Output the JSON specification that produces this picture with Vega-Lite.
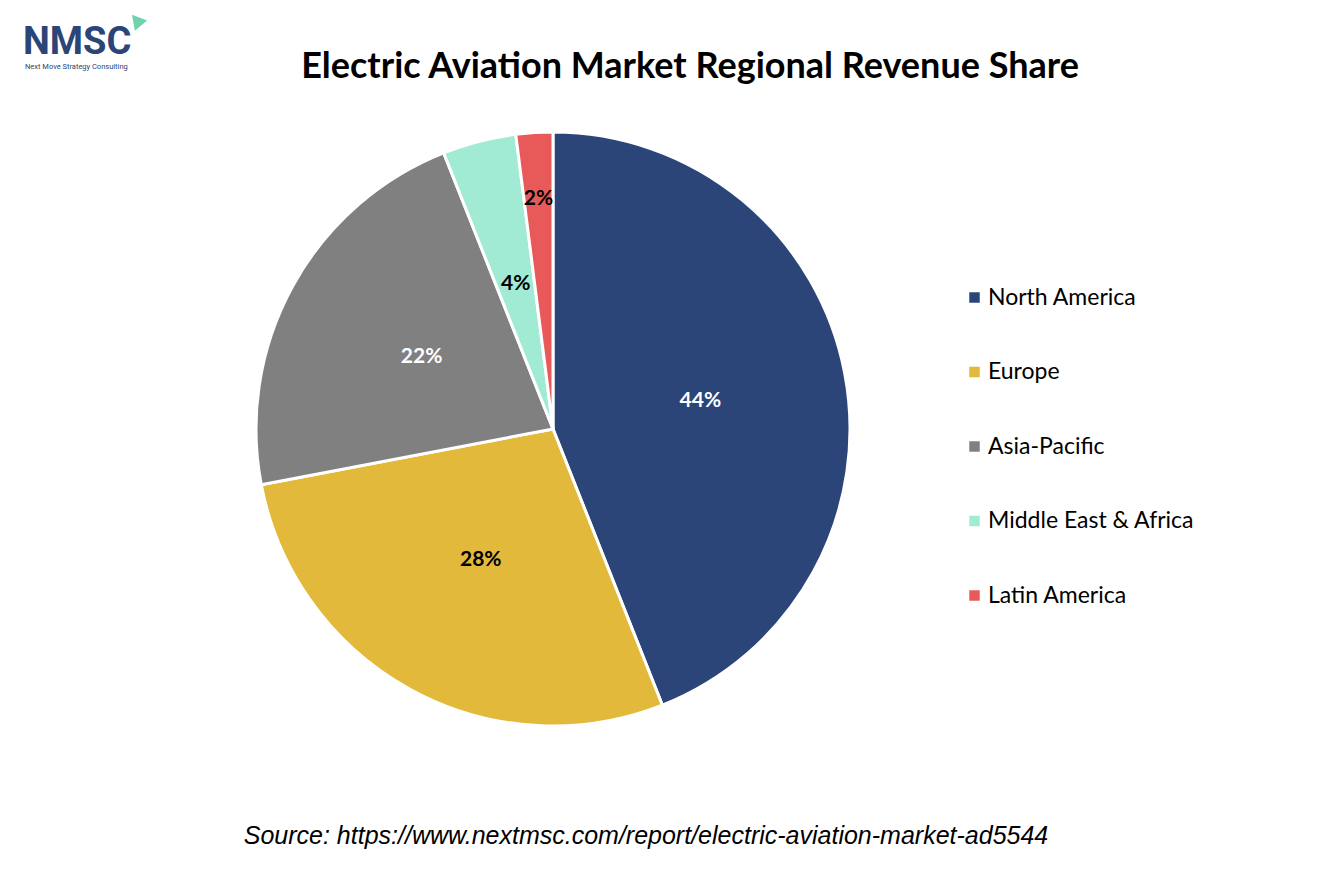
{
  "$schema": "https://vega.github.io/schema/vega-lite/v6.json",
  "width": 1106,
  "height": 658,
  "autosize": {"type": "none"},
  "padding": {"left": 0, "top": 100, "right": 228, "bottom": 131},
  "background": "white",
  "data": {
    "values": [
      {"region": "North America", "share": 0.44, "rank": 1},
      {"region": "Europe", "share": 0.28, "rank": 2},
      {"region": "Asia-Pacific", "share": 0.22, "rank": 3},
      {"region": "Middle East & Africa", "share": 0.04, "rank": 4},
      {"region": "Latin America", "share": 0.02, "rank": 5}
    ]
  },
  "layer": [
    {
      "mark": {"type": "arc", "outerRadius": 297, "stroke": "white", "strokeWidth": 3},
      "encoding": {
        "theta": {"field": "share", "type": "quantitative", "stack": true},
        "order": {"field": "rank", "type": "quantitative"},
        "color": {
          "field": "region",
          "type": "nominal",
          "scale": {
            "domain": ["North America", "Europe", "Asia-Pacific", "Middle East & Africa", "Latin America"],
            "range": ["#2B4579", "#E2B93B", "#808080", "#A1EAD3", "#E85959"]
          },
          "legend": {
            "orient": "none",
            "legendX": 963,
            "legendY": 186,
            "title": null,
            "padding": 0,
            "symbolType": "square",
            "symbolSize": 110,
            "symbolStrokeWidth": 0,
            "labelFont": "Lato",
            "labelFontSize": 23,
            "labelColor": "black",
            "labelOffset": 2,
            "labelLimit": 400,
            "rowPadding": 50.5
          }
        }
      }
    },
    {
      "mark": {"type": "text", "radius": 150, "font": "Lato", "fontSize": 21, "fontWeight": "bold"},
      "encoding": {
        "theta": {"field": "share", "type": "quantitative", "stack": true},
        "order": {"field": "rank", "type": "quantitative"},
        "text": {
          "condition": {"test": "datum.region !== 'Latin America'", "field": "share", "format": ".0%"},
          "value": ""
        },
        "color": {
          "condition": {"test": "datum.region === 'North America' || datum.region === 'Asia-Pacific'", "value": "white"},
          "value": "black"
        }
      }
    },
    {
      "mark": {"type": "text", "radius": 230, "font": "Lato", "fontSize": 21, "fontWeight": "bold", "color": "black"},
      "encoding": {
        "theta": {"field": "share", "type": "quantitative", "stack": true},
        "order": {"field": "rank", "type": "quantitative"},
        "text": {
          "condition": {"test": "datum.region === 'Latin America'", "field": "share", "format": ".0%"},
          "value": ""
        }
      }
    },
    {
      "data": {"values": [{"heading": "Electric Aviation Market Regional Revenue Share"}]},
      "mark": {"type": "text", "font": "Lato", "fontSize": 36, "fontWeight": "bold", "color": "black", "baseline": "middle"},
      "encoding": {
        "text": {"field": "heading"},
        "x": {"value": 690},
        "y": {"value": -33}
      }
    },
    {
      "data": {"values": [{"note": "Source: https://www.nextmsc.com/report/electric-aviation-market-ad5544"}]},
      "mark": {"type": "text", "font": "Liberation Sans", "fontSize": 25, "fontStyle": "italic", "color": "black", "baseline": "middle"},
      "encoding": {
        "text": {"field": "note"},
        "x": {"value": 646},
        "y": {"value": 736}
      }
    },
    {
      "data": {"values": [{"brand": "NMSC"}]},
      "mark": {"type": "text", "font": "Roboto", "fontSize": 38, "fontWeight": "bold", "color": "#2B4579", "align": "left", "baseline": "alphabetic"},
      "encoding": {
        "text": {"field": "brand"},
        "x": {"value": 23},
        "y": {"value": -46}
      }
    },
    {
      "data": {"values": [{"brand": "Next Move Strategy Consulting"}]},
      "mark": {"type": "text", "font": "Roboto", "fontSize": 7.5, "color": "#2B4579", "align": "left", "baseline": "middle"},
      "encoding": {
        "text": {"field": "brand"},
        "x": {"value": 25},
        "y": {"value": -33}
      }
    },
    {
      "data": {"values": [{"brand": "arrow"}]},
      "mark": {"type": "point", "shape": "triangle", "filled": true, "color": "#6FD3AE", "opacity": 1, "size": 260, "angle": 200},
      "encoding": {
        "x": {"value": 138},
        "y": {"value": -78}
      }
    }
  ],
  "config": {"view": {"stroke": null}}
}
